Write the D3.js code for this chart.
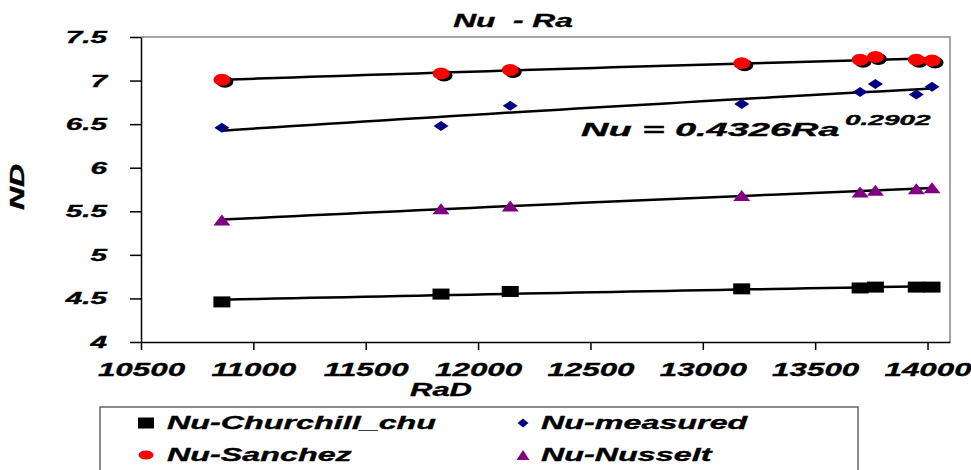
<!DOCTYPE html>
<html>
<head>
<meta charset="utf-8">
<script src="https://cdn.jsdelivr.net/npm/d3@7"></script>
<style>
  body { margin: 0; background: #fff; }
  svg { display: block; }
  text { font-family: "Liberation Sans", Arial, sans-serif; font-weight: bold; font-style: italic; fill: #000; stroke: #000; stroke-width: 0.35px; }
</style>
</head>
<body>
<script>
// размеры окна
const width = 971, height = 470;
const margin = {top: 37, right: 21, bottom: 128, left: 141};

// данные
const ra = [10860, 11835, 12143, 13173, 13700, 13768, 13950, 14020];
const churchill = [4.46, 4.55, 4.58, 4.61, 4.62, 4.63, 4.63, 4.63];
const measured = [6.46, 6.48, 6.71, 6.73, 6.87, 6.96, 6.84, 6.93];
const sanchez = [7.01, 7.08, 7.12, 7.20, 7.24, 7.27, 7.24, 7.23];
const nusselt = [5.40, 5.53, 5.56, 5.68, 5.72, 5.74, 5.76, 5.77];

const xTicks = [10500, 11000, 11500, 12000, 12500, 13000, 13500, 14000];
const yTicks = [4, 4.5, 5, 5.5, 6, 6.5, 7, 7.5];
const xDomain = [10500, 14100];
const yDomain = [4, 7.5];

const seriesNames = ['Nu-Churchill_chu', 'Nu-measured', 'Nu-Sanchez', 'Nu-Nusselt'];
const seriesColors = ['#000000', '#000080', '#ff0000', '#800080'];
const seriesShapes = ['square', 'diamond', 'circle', 'triangle'];
const seriesValues = [churchill, measured, sanchez, nusselt];

const title = 'Nu  - Ra';
const xTitle = 'RaD';
const yTitle = 'ND';
const equation = 'Nu = 0.4326Ra';
const equationExp = '0.2902';

const svg = d3.select('body').append('svg').attr('width', width).attr('height', height);

const x = d3.scaleLinear().domain(xDomain).range([margin.left, width - margin.right]);
const y = d3.scaleLinear().domain(yDomain).range([height - margin.bottom, margin.top]);

// растянутый по горизонтали текст (как на исходной картинке)
function stretchedText(px, py, str, size, sx, anchor, rotate) {
  const g = svg.append('g').attr('transform', `translate(${px},${py})` + (rotate ? ` rotate(${rotate})` : ''));
  return g.append('text')
    .attr('transform', `scale(${sx},1)`)
    .attr('text-anchor', anchor || 'start')
    .style('font-size', size + 'px')
    .style('white-space', 'pre')
    .text(str);
}

// рамка сверху и справа
svg.append('path')
  .attr('d', `M${x(xDomain[0])},${y(yDomain[1])}H${x(xDomain[1])}V${y(yDomain[0])}`)
  .attr('fill', 'none').attr('stroke', '#888').attr('stroke-width', 1.5);

// оси
const sy = 1.75, sxx = 1.65;
const yAxis = svg.append('g').attr('transform', `translate(${margin.left},0)`)
  .call(d3.axisLeft(y).tickValues(yTicks).tickSize(11).tickSizeOuter(0).tickFormat(d3.format('')));
yAxis.selectAll('text')
  .attr('x', -34 / sy).attr('transform', `scale(${sy},1)`)
  .style('font-size', '17px');

const xAxis = svg.append('g').attr('transform', `translate(0,${height - margin.bottom})`)
  .call(d3.axisBottom(x).tickValues(xTicks).tickSize(8).tickSizeOuter(0).tickFormat(d3.format('')));
xAxis.selectAll('text')
  .attr('y', 21).attr('transform', `scale(${sxx},1)`)
  .style('font-size', '19px');

svg.selectAll('.domain, .tick line').attr('stroke', '#000').attr('stroke-width', 1.5);
svg.selectAll('.tick text').attr('fill', '#000').attr('font-family', null).attr('font-size', null);

// степенные линии тренда (МНК в логарифмах)
function powerFit(xs, ys) {
  const lx = xs.map(Math.log), ly = ys.map(Math.log);
  const mx = d3.mean(lx), my = d3.mean(ly);
  const b = d3.sum(lx, (v, i) => (v - mx) * (ly[i] - my)) / d3.sum(lx, v => (v - mx) * (v - mx));
  const a = Math.exp(my - b * mx);
  return v => a * Math.pow(v, b);
}
const line = d3.line().x(d => x(d[0])).y(d => y(d[1]));
const [r0, r1] = d3.extent(ra);
seriesValues.forEach(vals => {
  const f = powerFit(ra, vals);
  const pts = d3.range(0, 41).map(i => { const v = r0 + (r1 - r0) * i / 40; return [v, f(v)]; });
  svg.append('path').attr('d', line(pts)).attr('fill', 'none').attr('stroke', '#000').attr('stroke-width', 2.5);
});

// маркеры
function drawMarker(g, shape, color, w, h) {
  if (shape === 'square') {
    g.append('rect').attr('x', -w / 2).attr('y', -h / 2).attr('width', w).attr('height', h).attr('fill', color);
  } else if (shape === 'circle') {
    g.append('ellipse').attr('rx', w / 2).attr('ry', h / 2).attr('fill', color);
  } else if (shape === 'diamond') {
    g.append('path').attr('d', `M${-w / 2},0L0,${-h / 2}L${w / 2},0L0,${h / 2}Z`).attr('fill', color);
  } else {
    g.append('path').attr('d', `M${-w / 2},${h / 2}L0,${-h / 2}L${w / 2},${h / 2}Z`).attr('fill', color);
  }
}
const markerSize = {square: [17, 11], diamond: [15, 10], circle: [17, 12], triangle: [17, 11]};
seriesValues.forEach((vals, si) => {
  const shape = seriesShapes[si];
  const [w, h] = markerSize[shape];
  vals.forEach((v, i) => {
    if (shape === 'circle') {
      const sh = svg.append('g').attr('transform', `translate(${x(ra[i]) + 3},${y(v) + 2})`);
      drawMarker(sh, 'circle', '#000', w, h);
    }
    const g = svg.append('g').attr('transform', `translate(${x(ra[i])},${y(v)})`);
    drawMarker(g, shape, seriesColors[si], w, h);
  });
});

// подписи
stretchedText(513, 27, title, 18, 1.76, 'middle');
stretchedText(441, 396, xTitle, 18, 1.72, 'middle');
stretchedText(24, 187, yTitle, 20, 1.6, 'middle', -90);
stretchedText(581, 136, equation, 19, 2.0, 'start');
stretchedText(845, 125, equationExp, 14, 2.0, 'start');

// легенда
svg.append('rect').attr('x', 100).attr('y', 407).attr('width', 758).attr('height', 80)
  .attr('fill', 'none').attr('stroke', '#666').attr('stroke-width', 1.5);
const legendPos = [[146, 423], [523, 423], [146, 455], [523, 455]];
const legendSize = {square: [16, 11], diamond: [11, 9], circle: [15, 9], triangle: [13, 10]};
seriesNames.forEach((name, i) => {
  const [lx, ly] = legendPos[i];
  const g = svg.append('g').attr('transform', `translate(${lx},${ly})`);
  const [w, h] = legendSize[seriesShapes[i]];
  drawMarker(g, seriesShapes[i], seriesColors[i], w, h);
  stretchedText(lx + (i % 2 ? 18 : 21), ly + 6, name, 19, 1.7, 'start');
});
</script>
</body>
</html>
